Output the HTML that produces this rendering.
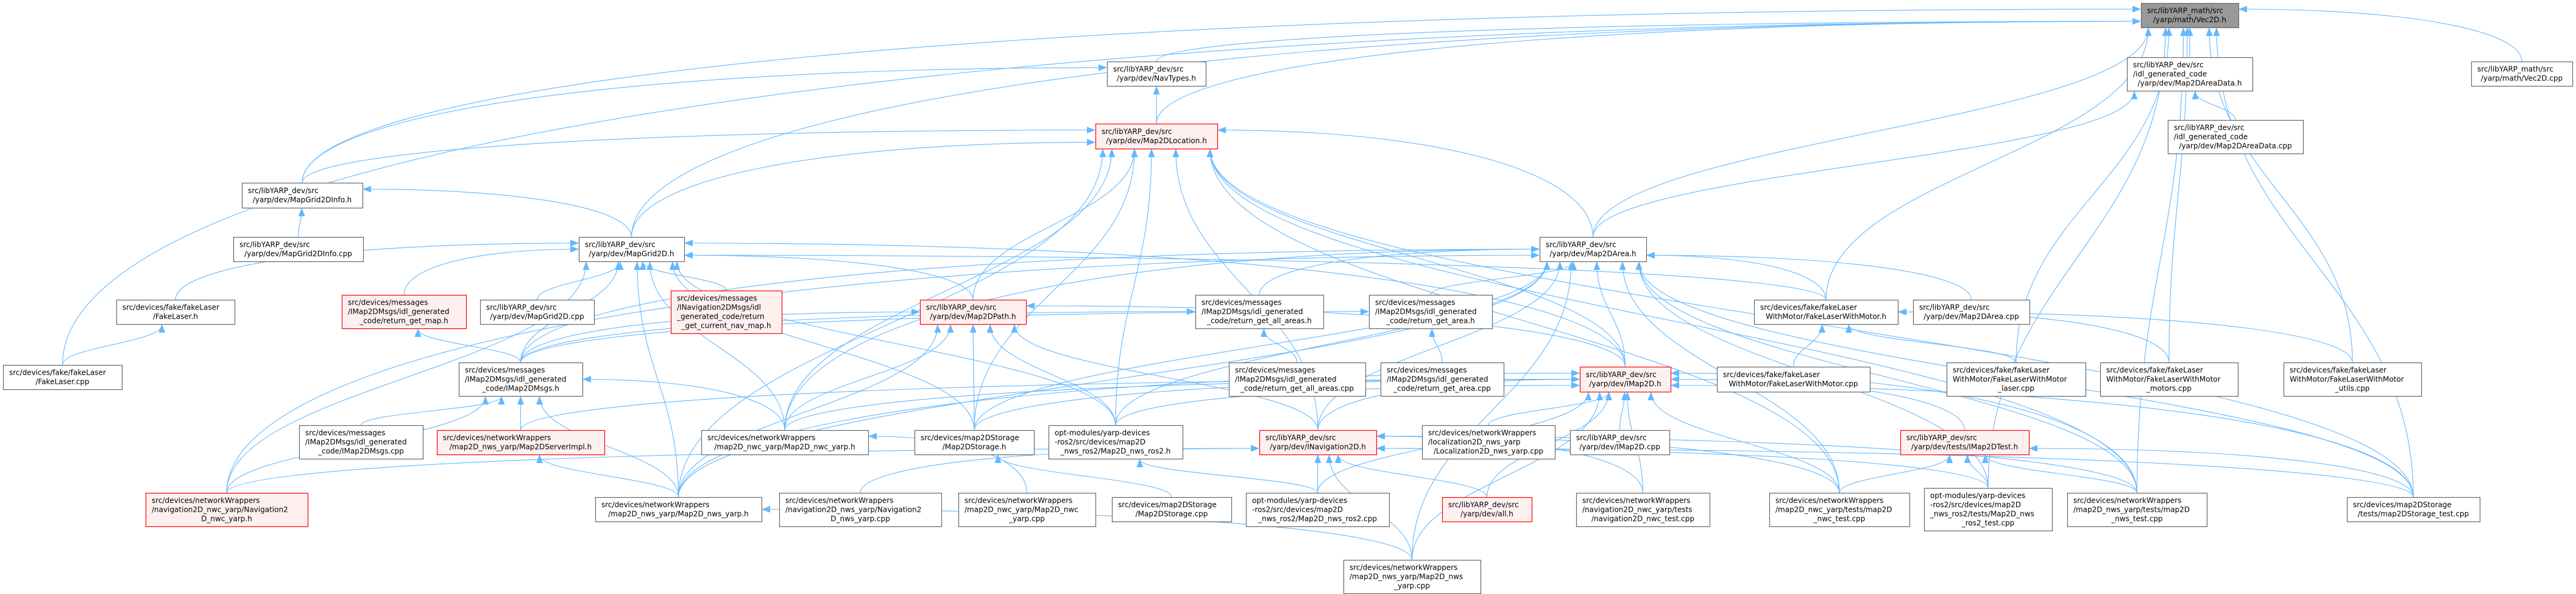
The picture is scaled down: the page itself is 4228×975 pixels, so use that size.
<!DOCTYPE html>
<html><head><meta charset="utf-8"><style>
html,body{margin:0;padding:0;background:#fff}
svg{display:block}
text{font-family:"DejaVu Sans","Liberation Sans",sans-serif;font-size:12px;fill:#000}
</style></head><body>
<svg id="s" xmlns="http://www.w3.org/2000/svg" width="4228" height="975" viewBox="0 0 4228 975">
<defs><marker id="a" viewBox="0 0 14 11" refX="13" refY="5.5" markerWidth="14" markerHeight="11" markerUnits="userSpaceOnUse" orient="auto"><path d="M0,0 L14,5.5 L0,11 z" fill="#63b8ff"/></marker></defs>
<g id="edges" fill="none" stroke="#63b8ff" stroke-width="1.1"></g>
<g id="nodes"></g>
</svg>
<div id="src" style="display:none">
<p data-n="V|3514|5|160|40|g">src/libYARP_math/src|/yarp/math/Vec2D.h</p>
<p data-n="NT|1817|101|162|40|">src/libYARP_dev/src|/yarp/dev/NavTypes.h</p>
<p data-n="ML|1798|203|200|41|r">src/libYARP_dev/src|/yarp/dev/Map2DLocation.h</p>
<p data-n="AD|3491|94|206|55|">src/libYARP_dev/src|/idl_generated_code|/yarp/dev/Map2DAreaData.h</p>
<p data-n="ADC|3558|197|222|55|">src/libYARP_dev/src|/idl_generated_code|/yarp/dev/Map2DAreaData.cpp</p>
<p data-n="VC|4056|101|166|40|">src/libYARP_math/src|/yarp/math/Vec2D.cpp</p>
<p data-n="GI|397|300|198|41|">src/libYARP_dev/src|/yarp/dev/MapGrid2DInfo.h</p>
<p data-n="GIC|383|389|213|40|">src/libYARP_dev/src|/yarp/dev/MapGrid2DInfo.cpp</p>
<p data-n="G|950|389|173|40|">src/libYARP_dev/src|/yarp/dev/MapGrid2D.h</p>
<p data-n="AR|2527|389|175|40|">src/libYARP_dev/src|/yarp/dev/Map2DArea.h</p>
<p data-n="FL|191|492|194|40|">src/devices/fake/fakeLaser|/FakeLaser.h</p>
<p data-n="FLC|5|599|195|40|">src/devices/fake/fakeLaser|/FakeLaser.cpp</p>
<p data-n="RGM|561|484|204|55|r">src/devices/messages|/IMap2DMsgs/idl_generated|_code/return_get_map.h</p>
<p data-n="GC|788|492|187|40|">src/libYARP_dev/src|/yarp/dev/MapGrid2D.cpp</p>
<p data-n="NAV|1101|477|182|70|r">src/devices/messages|/INavigation2DMsgs/idl|_generated_code/return|_get_current_nav_map.h</p>
<p data-n="P|1510|492|174|40|r">src/libYARP_dev/src|/yarp/dev/Map2DPath.h</p>
<p data-n="RAA|1962|484|210|55|">src/devices/messages|/IMap2DMsgs/idl_generated|_code/return_get_all_areas.h</p>
<p data-n="RA|2247|484|202|55|">src/devices/messages|/IMap2DMsgs/idl_generated|_code/return_get_area.h</p>
<p data-n="FW|2879|492|236|40|">src/devices/fake/fakeLaser|WithMotor/FakeLaserWithMotor.h</p>
<p data-n="AC|3140|492|191|40|">src/libYARP_dev/src|/yarp/dev/Map2DArea.cpp</p>
<p data-n="MS|753|595|203|55|">src/devices/messages|/IMap2DMsgs/idl_generated|_code/IMap2DMsgs.h</p>
<p data-n="RAAC|2017|595|224|55|">src/devices/messages|/IMap2DMsgs/idl_generated|_code/return_get_all_areas.cpp</p>
<p data-n="RAC|2266|595|202|55|">src/devices/messages|/IMap2DMsgs/idl_generated|_code/return_get_area.cpp</p>
<p data-n="I|2593|602|149|41|r">src/libYARP_dev/src|/yarp/dev/IMap2D.h</p>
<p data-n="FWC|2818|602|251|41|">src/devices/fake/fakeLaser|WithMotor/FakeLaserWithMotor.cpp</p>
<p data-n="FWL|3195|595|228|55|">src/devices/fake/fakeLaser|WithMotor/FakeLaserWithMotor|_laser.cpp</p>
<p data-n="FWM|3447|595|226|55|">src/devices/fake/fakeLaser|WithMotor/FakeLaserWithMotor|_motors.cpp</p>
<p data-n="FWU|3748|595|226|55|">src/devices/fake/fakeLaser|WithMotor/FakeLaserWithMotor|_utils.cpp</p>
<p data-n="MSC|491|698|203|55|">src/devices/messages|/IMap2DMsgs/idl_generated|_code/IMap2DMsgs.cpp</p>
<p data-n="SI|717|706|275|40|r">src/devices/networkWrappers|/map2D_nws_yarp/Map2DServerImpl.h</p>
<p data-n="NWC|1151|706|274|40|">src/devices/networkWrappers|/map2D_nwc_yarp/Map2D_nwc_yarp.h</p>
<p data-n="ST|1501|706|196|40|">src/devices/map2DStorage|/Map2DStorage.h</p>
<p data-n="R2|1721|698|220|55|">opt-modules/yarp-devices|-ros2/src/devices/map2D|_nws_ros2/Map2D_nws_ros2.h</p>
<p data-n="IN|2067|706|192|40|r">src/libYARP_dev/src|/yarp/dev/INavigation2D.h</p>
<p data-n="LOC|2334|698|218|55|">src/devices/networkWrappers|/localization2D_nws_yarp|/Localization2D_nws_yarp.cpp</p>
<p data-n="IC|2577|706|163|40|">src/libYARP_dev/src|/yarp/dev/IMap2D.cpp</p>
<p data-n="T|3119|706|211|40|r">src/libYARP_dev/src|/yarp/dev/tests/IMap2DTest.h</p>
<p data-n="NN|239|809|266|55|r">src/devices/networkWrappers|/navigation2D_nwc_yarp/Navigation2|D_nwc_yarp.h</p>
<p data-n="NWS|977|816|273|40|">src/devices/networkWrappers|/map2D_nws_yarp/Map2D_nws_yarp.h</p>
<p data-n="NNS|1279|809|266|55|">src/devices/networkWrappers|/navigation2D_nws_yarp/Navigation2|D_nws_yarp.cpp</p>
<p data-n="NWCC|1573|809|225|55|">src/devices/networkWrappers|/map2D_nwc_yarp/Map2D_nwc|_yarp.cpp</p>
<p data-n="STC|1825|816|196|40|">src/devices/map2DStorage|/Map2DStorage.cpp</p>
<p data-n="R2C|2045|809|235|55|">opt-modules/yarp-devices|-ros2/src/devices/map2D|_nws_ros2/Map2D_nws_ros2.cpp</p>
<p data-n="ALL|2367|816|147|40|r">src/libYARP_dev/src|/yarp/dev/all.h</p>
<p data-n="NT2|2587|809|219|55|">src/devices/networkWrappers|/navigation2D_nwc_yarp/tests|/navigation2D_nwc_test.cpp</p>
<p data-n="MNT|2904|809|230|55|">src/devices/networkWrappers|/map2D_nwc_yarp/tests/map2D|_nwc_test.cpp</p>
<p data-n="R2T|3158|801|210|70|">opt-modules/yarp-devices|-ros2/src/devices/map2D|_nws_ros2/tests/Map2D_nws|_ros2_test.cpp</p>
<p data-n="NWST|3393|809|229|55|">src/devices/networkWrappers|/map2D_nws_yarp/tests/map2D|_nws_test.cpp</p>
<p data-n="STT|3852|816|218|40|">src/devices/map2DStorage|/tests/map2DStorage_test.cpp</p>
<p data-n="NWSC|2205|919|225|55|">src/devices/networkWrappers|/map2D_nws_yarp/Map2D_nws|_yarp.cpp</p>
</div>
<script>
(function(){
var NS="http://www.w3.org/2000/svg",N={},ng=document.getElementById("nodes"),eg=document.getElementById("edges");
function el(t,a,p){var e=document.createElementNS(NS,t);for(var k in a)e.setAttribute(k,a[k]);p.appendChild(e);return e;}
document.querySelectorAll("#src p").forEach(function(p){
 var d=p.getAttribute("data-n").split("|"),id=d[0],x=+d[1],y=+d[2],w=+d[3],h=+d[4],c=d[5];
 N[id]={x:x,y:y,w:w,h:h};
 el("rect",{x:x+.5,y:y+.5,width:w,height:h,fill:c=="g"?"#999":(c=="r"?"#fff0f0":"#fff"),stroke:c=="r"?"#f00":"#666","stroke-width":1.2},ng);
 var L=p.textContent.split("|"),lh=15,y0=y+(h-L.length*lh)/2+11.5;
 L.forEach(function(s,i){
  var last=(i==L.length-1);
  var t=el("text",last?{x:x+w/2,y:y0+i*lh,"text-anchor":"middle"}:{x:x+10,y:y0+i*lh},ng);t.textContent=s;
 });
});
var E="NT V,AD V,VC V,AR V,FLC V,GI V,G V,ML V,FW V,FWL V,FWM V,FWU V,STT V,NWST V,R2T V,ADC AD,AR AD,ML NT,GI NT,GI ML,GIC GI,G GI,G ML,AR ML,P ML,R2 ML,I ML,NWC ML,ST ML,IN ML,NWS ML,MNT ML,STT ML,NWST ML,FL G,RGM G,GC G,MS G,NAV G,P G,I G,FW G,NWC G,ST G,R2 G,NN G,NWS G,FLC FL,MS RGM,MSC MS,SI MS,NWS SI,NN MS,NWC MS,NWS MS,MS P,MS AR,MS RAA,MS RA,RAAC RAA,RAC RA,RAA AR,RA AR,ST P,R2 P,IN P,NWS P,I P,NWC P,I AR,IN AR,R2 AR,ST AR,NWC AR,NWS AR,AC AR,FW AR,NWST AR,STT AR,MNT AR,R2T AR,NWSC AR,NN AR,NWC I,ST I,R2 I,IN I,LOC I,IC I,ALL I,NT2 I,MNT I,T I,NWS I,NWSC I,NWST I,STT I,SI I,R2C I,NN IN,NNS IN,R2C IN,ALL IN,NT2 IN,NWSC IN,MNT IN,NWST IN,STT IN,R2T IN,MNT T,R2T T,NWST T,STT T,FWC FW,FWL FW,FWM FW,FWU FW,NWCC NWC,STC ST,R2C R2,NWSC NWS".split(",");
E.forEach(function(s){
 var q=s.split(" "),a=N[q[0]],b=N[q[1]];
 var acx=a.x+a.w/2,bcx=b.x+b.w/2,d;
 if(a.y>b.y+b.h+15){
  var sx=acx,sy=a.y,tx=Math.max(b.x+12,Math.min(b.x+b.w-12,bcx+(acx-bcx)*0.12)),ty=b.y+b.h+1;
  var dx=Math.abs(tx-sx),dy=sy-ty;
  if(dx>4*dy&&dx>300){tx=acx<bcx?b.x-1:b.x+b.w+1;ty=b.y+b.h/2+(acx<bcx?1:-1)*Math.min(10,b.h/3)*((a.y%3)-1);
   d="M"+sx+","+sy+" C"+sx+","+(sy-(sy-ty)*0.6)+" "+(sx+(tx-sx)*0.4)+","+ty+" "+tx+","+ty;}
  else{d="M"+sx+","+sy+" C"+sx+","+(sy-dy*0.45)+" "+tx+","+(ty+dy*0.45)+" "+tx+","+ty;}
 }else{
  var left=acx<bcx,sx2=left?a.x+a.w:a.x,sy2=a.y+a.h/2,tx2=left?b.x-1:b.x+b.w+1,ty2=b.y+b.h/2;
  d="M"+sx2+","+sy2+" C"+(sx2+(tx2-sx2)*0.4)+","+sy2+" "+(sx2+(tx2-sx2)*0.6)+","+ty2+" "+tx2+","+ty2;
 }
 el("path",{d:d,"marker-end":"url(#a)"},eg);
});
})();
</script>
</body></html>
